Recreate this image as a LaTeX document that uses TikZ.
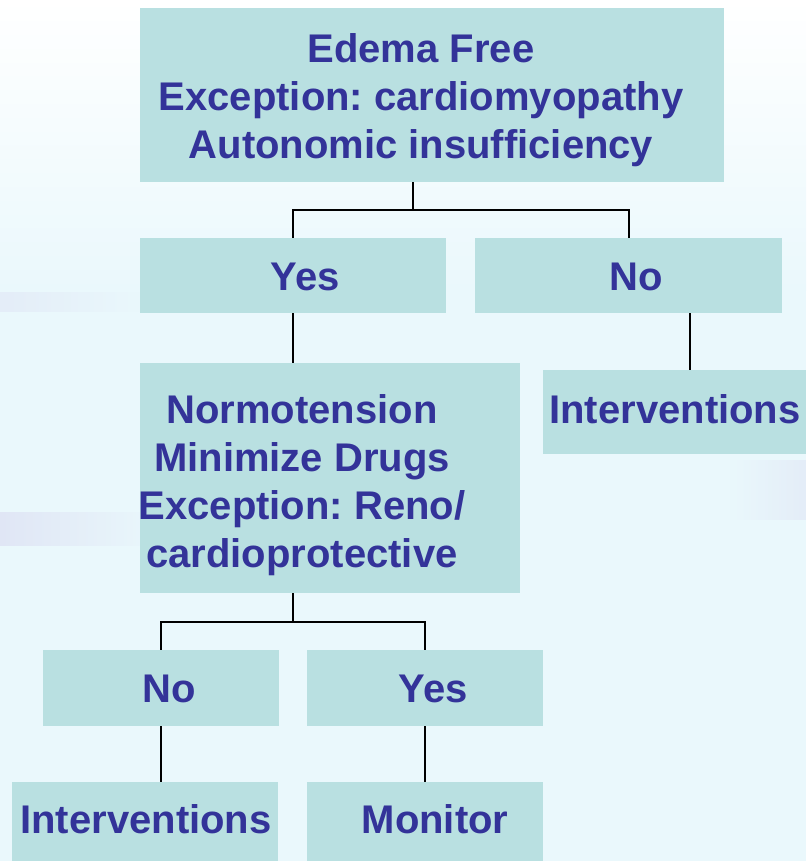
\documentclass[tikz,border=0pt]{standalone}
\usepackage{fontspec}
\setmainfont{Liberation Sans}
\usetikzlibrary{calc,fadings}
\definecolor{boxfill}{RGB}{185,224,225}
\definecolor{txtblue}{RGB}{51,51,153}
\definecolor{bgcyan}{RGB}{234,248,252}
\definecolor{lav}{RGB}{222,226,244}
\tikzset{
  box/.style={fill=boxfill, draw=none, rectangle, inner sep=0pt, anchor=north west},
  lbl/.style={text=txtblue, font=\fontsize{40}{48}\selectfont\bfseries\frenchspacing, inner sep=0pt, align=center},
  conn/.style={draw=black, line width=2pt}
}
\begin{document}
\begin{tikzpicture}[x=1pt,y=-1pt]
\useasboundingbox (0,0) rectangle (806,861);
% background
\fill[bgcyan] (0,0) rectangle (806,861);
\shade[top color=white, bottom color=bgcyan] (0,0) rectangle (806,290);
\fill[lav, path fading=east, opacity=0.8] (0,512) rectangle (160,546);
\fill[lav, path fading=east, opacity=0.5] (0,292) rectangle (140,312);
\fill[lav, path fading=west, opacity=0.5] (730,460) rectangle (806,520);
% boxes
\node[box, minimum width=584, minimum height=174] (top) at (140,8) {};
\node[box, minimum width=306, minimum height=75] (yes1) at (140,238) {};
\node[box, minimum width=307, minimum height=75] (no1) at (475,238) {};
\node[box, minimum width=380, minimum height=230] (norm) at (140,363) {};
\node[box, minimum width=263, minimum height=84] (int1) at (543,370) {};
\node[box, minimum width=236, minimum height=76] (no2) at (43,650) {};
\node[box, minimum width=236, minimum height=76] (yes2) at (307,650) {};
\node[box, minimum width=266, minimum height=79] (int2) at (12,782) {};
\node[box, minimum width=236, minimum height=79] (mon) at (307,782) {};
% texts
\node[lbl] (topt) at (421,100) {Edema Free\\Exception: cardiomyopathy\\Autonomic insufficiency};
\node[lbl, anchor=base] (yes1t) at (305,290) {Yes};
\node[lbl, anchor=base] (no1t) at (636,290) {No};
\node[lbl] (normt) at (302,485) {Normotension\\Minimize Drugs\\Exception: Reno/\\cardioprotective};
\node[lbl, anchor=base] (int1t) at (675,423) {Interventions};
\node[lbl, anchor=base] (no2t) at (169,702) {No};
\node[lbl, anchor=base] (yes2t) at (433,702) {Yes};
\node[lbl, anchor=base] (int2t) at (146,833) {Interventions};
\node[lbl, anchor=base] (mont) at (435,833) {Monitor};
% connectors
\draw[conn] ([xshift=-19pt]top.south) -- ++(0,28) coordinate (j1) -| (yes1.north);
\draw[conn] (j1) -| (no1.north);
\draw[conn] (yes1.south) -- (yes1.south |- norm.north);
\draw[conn] ([xshift=61.5pt]no1.south) -- ([xshift=61.5pt]no1.south |- int1.north);
\draw[conn] ([xshift=-37pt]norm.south) -- ++(0,29) coordinate (j2) -| (no2.north);
\draw[conn] (j2) -| (yes2.north);
\draw[conn] (no2.south) -- (no2.south |- int2.north);
\draw[conn] (yes2.south) -- (mon.north);
\end{tikzpicture}
\end{document}
